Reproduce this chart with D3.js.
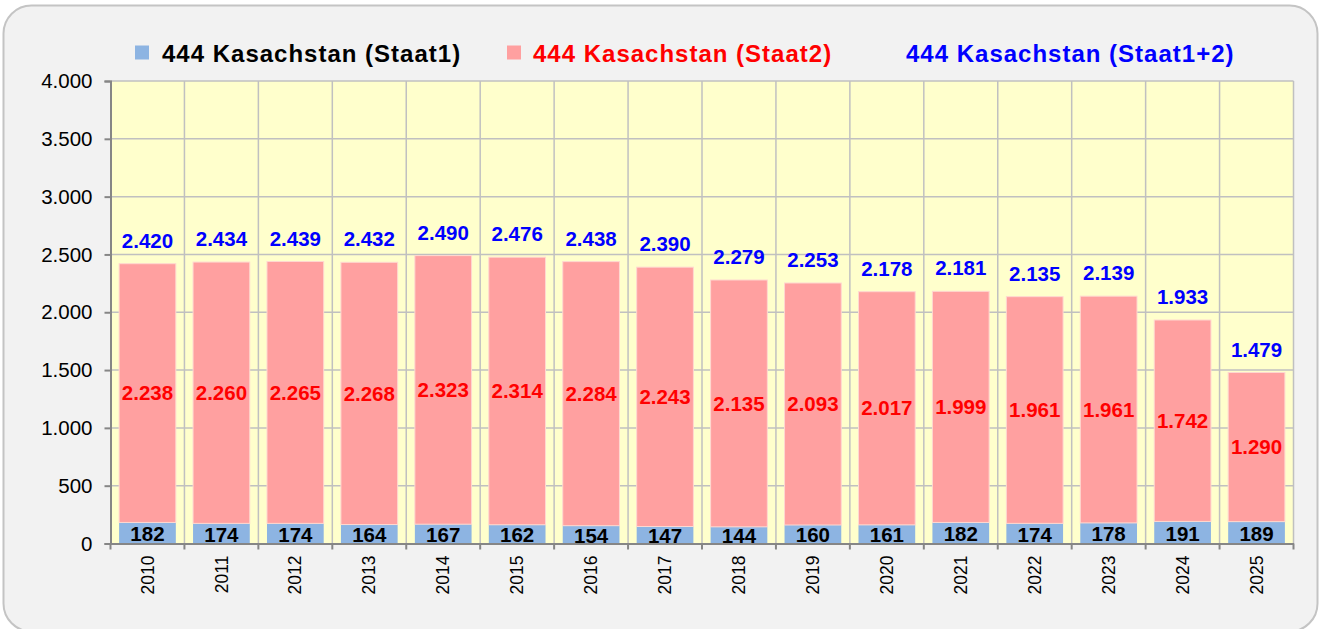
<!DOCTYPE html>
<html>
<head>
<meta charset="utf-8">
<script src="https://cdn.jsdelivr.net/npm/d3@7"></script>
<style>
  body { margin: 0; background: #fff; }
  svg text { font-family: "Liberation Sans", Arial, sans-serif; }
</style>
</head>
<body>
<div id="chart"></div>
<script>
// values
const years = ["2010","2011","2012","2013","2014","2015","2016","2017","2018","2019","2020","2021","2022","2023","2024","2025"]
const staat1 = [182,174,174,164,167,162,154,147,144,160,161,182,174,178,191,189]
const staat2 = [2238,2260,2265,2268,2323,2314,2284,2243,2135,2093,2017,1999,1961,1961,1742,1290]
const totals = [2420,2434,2439,2432,2490,2476,2438,2390,2279,2253,2178,2181,2135,2139,1933,1479]
const yTicks = [0,500,1000,1500,2000,2500,3000,3500,4000]
const legendNames = ["444 Kasachstan (Staat1)","444 Kasachstan (Staat2)","444 Kasachstan (Staat1+2)"]

const W = 1320, H = 629
const pLeft = 110.5, pRight = 1293.5, pTop = 81, pBottom = 543.5

const de = d3.formatLocale({decimal: ",", thousands: ".", grouping: [3], currency: ["", " €"]})
const fmt = de.format(",d")

const svg = d3.select("#chart").append("svg")
  .attr("width", W).attr("height", H)

// outer frame
svg.append("rect")
  .attr("x", 3.5).attr("y", 5.5)
  .attr("width", W - 6).attr("height", H - 3)
  .attr("rx", 28).attr("ry", 28)
  .attr("fill", "#f2f2f2").attr("stroke", "#c4c4c4").attr("stroke-width", 2)

const x = d3.scaleBand().domain(years).range([pLeft, pRight])
  .paddingInner(0.233).paddingOuter(0.1165)
const step = x.step()
const y = d3.scaleLinear().domain([0, 4000]).range([pBottom, pTop])

// plot background
svg.append("rect")
  .attr("x", pLeft).attr("y", pTop)
  .attr("width", pRight - pLeft).attr("height", pBottom - pTop)
  .attr("fill", "#ffffcc")

// horizontal grid
svg.append("g").selectAll("line")
  .data(yTicks.slice(1))
  .enter().append("line")
  .attr("x1", pLeft).attr("x2", pRight)
  .attr("y1", d => y(d)).attr("y2", d => y(d))
  .attr("stroke", "#c0c0c0").attr("stroke-width", 1.5)

// vertical grid at category boundaries
svg.append("g").selectAll("line")
  .data(years)
  .enter().append("line")
  .attr("x1", d => x(d) - x.paddingOuter() * step + step)
  .attr("x2", d => x(d) - x.paddingOuter() * step + step)
  .attr("y1", pTop).attr("y2", pBottom)
  .attr("stroke", "#c0c0c0").attr("stroke-width", 1.5)

// blue segments (Staat1)
svg.append("g").selectAll("rect")
  .data(years)
  .enter().append("rect")
  .attr("x", d => x(d))
  .attr("width", x.bandwidth())
  .attr("y", (d, i) => y(staat1[i]))
  .attr("height", (d, i) => y(0) - y(staat1[i]))
  .attr("fill", "#8db4e2")

// pink segments (Staat2)
svg.append("g").selectAll("rect")
  .data(years)
  .enter().append("rect")
  .attr("x", d => x(d))
  .attr("width", x.bandwidth())
  .attr("y", (d, i) => y(staat1[i] + staat2[i]))
  .attr("height", (d, i) => y(staat1[i]) - y(staat1[i] + staat2[i]))
  .attr("fill", "#ffa0a0")
  .attr("stroke", "#ffd8d0").attr("stroke-width", 1)

// axes
const yAxis = d3.axisLeft(y).tickValues(yTicks).tickFormat(fmt).tickSize(6).tickPadding(12)
const gy = svg.append("g").attr("transform", "translate(" + pLeft + ",0)").call(yAxis)
gy.select(".domain").attr("stroke", "#868686").attr("stroke-width", 2)
gy.selectAll(".tick line").attr("stroke", "#868686").attr("stroke-width", 2)
gy.selectAll(".tick text").attr("font-size", 20.5).attr("fill", "#000")
  .style("font-family", "'Liberation Sans', Arial, sans-serif")

const xAxis = d3.axisBottom(x).tickSize(0).tickPadding(0)
const gx = svg.append("g").attr("transform", "translate(0," + pBottom + ")").call(xAxis)
gx.select(".domain").attr("stroke", "#868686").attr("stroke-width", 2)
gx.selectAll(".tick text")
  .attr("font-size", 17.5).attr("fill", "#000")
  .style("font-family", "'Liberation Sans', Arial, sans-serif")
  .attr("text-anchor", "end")
  .attr("dy", "0.35em")
  .attr("transform", "translate(0,12) rotate(-90)")
  .attr("x", 0).attr("y", 0)

// x tick marks at category boundaries
svg.append("g").selectAll("line")
  .data([""].concat(years))
  .enter().append("line")
  .attr("x1", (d, i) => pLeft + i * step).attr("x2", (d, i) => pLeft + i * step)
  .attr("y1", pBottom).attr("y2", pBottom + 6)
  .attr("stroke", "#868686").attr("stroke-width", 2)

// value labels
const lab = svg.append("g").attr("font-weight", "bold").attr("font-size", 20.5).attr("text-anchor", "middle")

lab.selectAll(".l1").data(years).enter().append("text")
  .attr("x", d => x(d) + x.bandwidth() / 2)
  .attr("y", (d, i) => (y(0) + y(staat1[i])) / 2 + 1)
  .attr("dy", "0.35em")
  .attr("fill", "#000")
  .text((d, i) => fmt(staat1[i]))

lab.selectAll(".l2").data(years).enter().append("text")
  .attr("x", d => x(d) + x.bandwidth() / 2)
  .attr("y", (d, i) => (y(staat1[i]) + y(staat1[i] + staat2[i])) / 2)
  .attr("dy", "0.35em")
  .attr("fill", "#ff0000")
  .text((d, i) => fmt(staat2[i]))

lab.selectAll(".l3").data(years).enter().append("text")
  .attr("x", d => x(d) + x.bandwidth() / 2)
  .attr("y", (d, i) => y(totals[i]) - 23)
  .attr("dy", "0.35em")
  .attr("fill", "#0000ff")
  .text((d, i) => fmt(totals[i]))

// legend
const legend = [
  {name: legendNames[0], color: "#000", marker: "#8db4e2", mx: 135, tx: 162},
  {name: legendNames[1], color: "#ff0000", marker: "#ffa0a0", mx: 507, tx: 533},
  {name: legendNames[2], color: "#0000ff", marker: null, mx: 0, tx: 906}
]
const lg = svg.append("g")
lg.selectAll("rect").data(legend.filter(d => d.marker)).enter().append("rect")
  .attr("x", d => d.mx).attr("y", 45.5)
  .attr("width", 14).attr("height", 14)
  .attr("fill", d => d.marker)
lg.selectAll("text").data(legend).enter().append("text")
  .attr("x", d => d.tx).attr("y", 62)
  .attr("font-size", 24).attr("font-weight", "bold")
  .attr("letter-spacing", 1)
  .attr("fill", d => d.color)
  .text(d => d.name)
</script>
</body>
</html>
